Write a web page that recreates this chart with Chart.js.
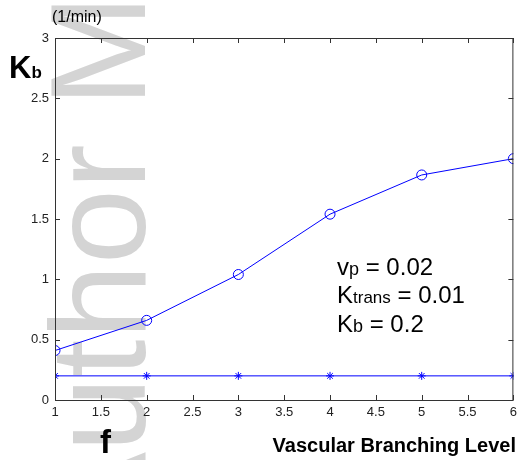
<!DOCTYPE html>
<html>
<head>
<meta charset="utf-8">
<script src="https://cdn.jsdelivr.net/npm/chart.js@4/dist/chart.umd.min.js"></script>
<style>
  html, body { margin: 0; padding: 0; background: #fff; }
  #wrap { width: 522px; height: 460px; }
</style>
</head>
<body>
<div id="wrap"><canvas id="chart" width="522" height="460"></canvas></div>
<script>
// branching level on x, Kb on y
const levels = [1, 2, 3, 4, 5, 6];
const kbEstimated = [0.41, 0.66, 1.04, 1.54, 1.865, 2.0];
const kbTrue = [0.2, 0.2, 0.2, 0.2, 0.2, 0.2];
const xTicks = [1, 1.5, 2, 2.5, 3, 3.5, 4, 4.5, 5, 5.5, 6];
const yTicks = [0, 0.5, 1, 1.5, 2, 2.5, 3];

const FONT = "'Liberation Sans', Arial, sans-serif";
const BLUE = "#0000ff";

// faint watermark behind everything
const watermark = {
  id: "watermark",
  beforeDraw(chart) {
    const c = chart.ctx;
    c.save();
    c.translate(145, 542);
    c.rotate(-Math.PI / 2);
    c.fillStyle = "rgb(212,212,212)";
    c.font = "135px " + FONT;
    c.textBaseline = "alphabetic";
    c.fillText("Author M", 0, 0);
    c.restore();
  }
};

// matlab style box with inward ticks
const boxTicks = {
  id: "boxTicks",
  afterDatasetsDraw(chart) {
    const c = chart.ctx;
    const a = chart.chartArea;
    const x = chart.scales.x, y = chart.scales.y;
    c.save();
    c.strokeStyle = "#333";
    c.lineWidth = 1;
    c.strokeRect(a.left + 0.5, a.top + 0.5, a.right - a.left - 1, a.bottom - a.top);
    c.beginPath();
    xTicks.forEach(v => {
      const px = Math.round(x.getPixelForValue(v)) + 0.5;
      c.moveTo(px, a.bottom); c.lineTo(px, a.bottom - 5);
      c.moveTo(px, a.top); c.lineTo(px, a.top + 5);
    });
    yTicks.forEach(v => {
      const py = Math.round(y.getPixelForValue(v)) + 0.5;
      c.moveTo(a.left, py); c.lineTo(a.left + 5, py);
      c.moveTo(a.right, py); c.lineTo(a.right - 5, py);
    });
    c.stroke();
    c.restore();
  }
};

// labels and the parameter note
function subText(c, x, y, main, sub, size, subSize, bold) {
  const w = bold ? "bold " : "";
  c.font = w + size + "px " + FONT;
  c.fillText(main, x, y);
  const mw = c.measureText(main).width;
  c.font = w + subSize + "px " + FONT;
  c.fillText(sub, x + mw, y);
  return x + mw + c.measureText(sub).width;
}

const labels = {
  id: "labels",
  afterDraw(chart) {
    const c = chart.ctx;
    c.save();
    c.fillStyle = "#000";
    c.textBaseline = "alphabetic";
    c.textAlign = "left";
    c.font = "16px " + FONT;
    c.fillText("(1/min)", 52, 22);
    subText(c, 9, 78, "K", "b", 31, 17, true);
    c.font = "bold 33px " + FONT;
    c.fillText("f", 100, 453);
    c.font = "bold 20px " + FONT;
    c.textAlign = "right";
    c.fillText("Vascular Branching Level", 516, 452);
    c.textAlign = "left";
    let end = subText(c, 337, 275, "v", "p", 24, 18, false);
    c.font = "24px " + FONT; c.fillText(" = 0.02", end, 275);
    end = subText(c, 337, 303, "K", "trans", 24, 17, false);
    c.font = "24px " + FONT; c.fillText(" = 0.01", end, 303);
    end = subText(c, 337, 332, "K", "b", 24, 18, false);
    c.font = "24px " + FONT; c.fillText(" = 0.2", end, 332);
    c.restore();
  }
};

new Chart(document.getElementById("chart"), {
  type: "line",
  data: {
    datasets: [
      {
        data: levels.map((l, i) => ({ x: l, y: kbEstimated[i] })),
        borderColor: BLUE,
        borderWidth: 1,
        pointStyle: "circle",
        pointRadius: 5,
        pointBorderColor: BLUE,
        pointBackgroundColor: "transparent",
        pointBorderWidth: 1,
        tension: 0
      },
      {
        data: levels.map((l, i) => ({ x: l, y: kbTrue[i] })),
        borderColor: BLUE,
        borderWidth: 1,
        pointStyle: "star",
        pointRadius: 4,
        pointBorderColor: BLUE,
        pointBorderWidth: 1,
        tension: 0
      }
    ]
  },
  options: {
    responsive: false,
    animation: false,
    layout: { padding: { top: 38, right: 6, left: 0, bottom: 0 } },
    plugins: { legend: { display: false }, tooltip: { enabled: false } },
    scales: {
      x: {
        type: "linear",
        min: 1, max: 6,
        afterBuildTicks: s => { s.ticks = xTicks.map(v => ({ value: v })); },
        afterFit: s => { s.height = 60; },
        grid: { display: false, drawTicks: false },
        border: { display: false },
        ticks: {
          color: "#222",
          font: { family: FONT, size: 13 },
          padding: 5,
          maxRotation: 0,
          callback: v => String(v)
        }
      },
      y: {
        type: "linear",
        min: 0, max: 3,
        afterBuildTicks: s => { s.ticks = yTicks.map(v => ({ value: v })); },
        afterFit: s => { s.width = 55; },
        grid: { display: false, drawTicks: false },
        border: { display: false },
        ticks: {
          color: "#222",
          font: { family: FONT, size: 13 },
          padding: 6,
          callback: v => String(v)
        }
      }
    }
  },
  plugins: [watermark, boxTicks, labels]
});
</script>
</body>
</html>
